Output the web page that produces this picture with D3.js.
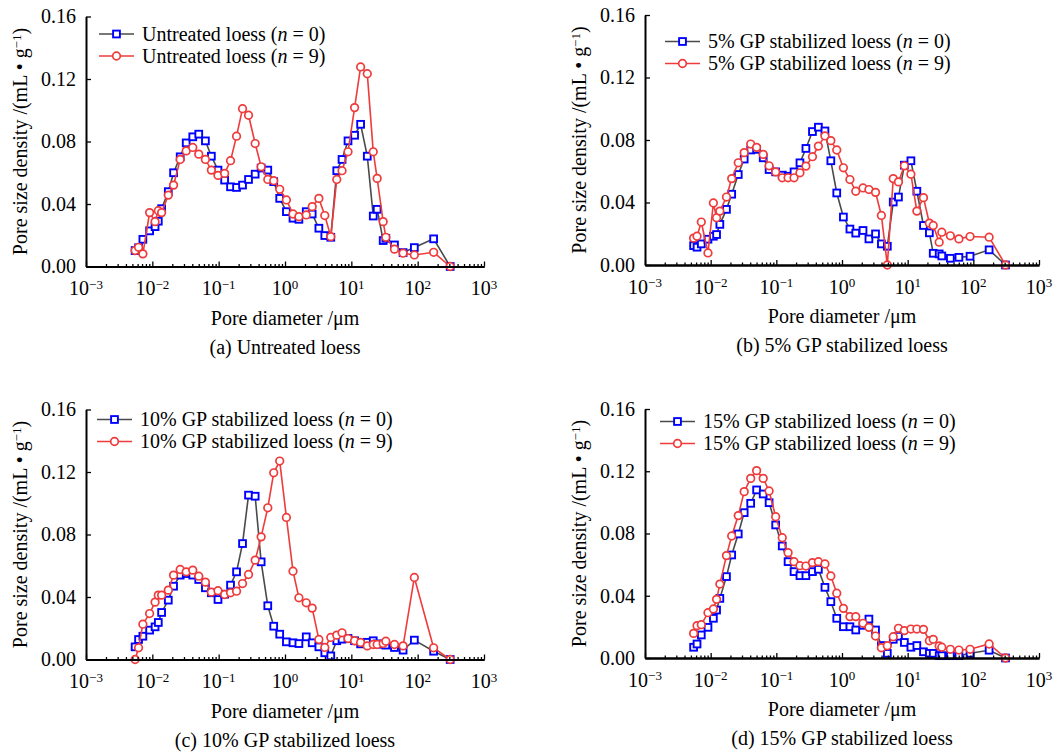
<!DOCTYPE html>
<html>
<head>
<meta charset="utf-8">
<script src="https://cdn.jsdelivr.net/npm/d3@7"></script>
<style>
  body { margin: 0; background: #fff; }
  text { font-family: "Liberation Serif", "Times New Roman", serif; fill: #000; }
</style>
</head>
<body>
<script>
//pore diameters (um) shared by every curve
var diameters = [0.0055, 0.0062, 0.0072, 0.0091, 0.011, 0.0123, 0.0138, 0.0174, 0.0209, 0.0263,
  0.0324, 0.0407, 0.0501, 0.0631, 0.0776, 0.0977, 0.123, 0.151, 0.186, 0.229,
  0.282, 0.355, 0.437, 0.550, 0.676, 0.832, 1.05, 1.32, 1.62, 2.09,
  2.57, 3.24, 3.98, 4.90, 6.03, 7.24, 8.91, 11.2, 13.8, 17.4,
  21.4, 24.5, 30.2, 33.1, 44.7, 60.3, 89.1, 174, 309];

//pore size density (mL/g), n = number of cycles
var untreated0 = [0.0102, 0.012, 0.0174, 0.0228, 0.0255, 0.029, 0.037, 0.0479, 0.060, 0.0702,
  0.0791, 0.083, 0.0847, 0.0804, 0.0706, 0.0617, 0.0553, 0.051, 0.0506, 0.0521,
  0.0557, 0.0591, 0.063, 0.0617, 0.0543, 0.0436, 0.0351, 0.0309, 0.0302, 0.0351,
  0.0336, 0.0245, 0.0198, 0.0187, 0.0613, 0.0685, 0.0804, 0.084, 0.091, 0.0706,
  0.0323, 0.0366, 0.0166, 0.018, 0.0138, 0.0089, 0.0121, 0.0177, 0];
var untreated9 = [0.0102, 0.0123, 0.0081, 0.0345, 0.0287, 0.0357, 0.0345, 0.0457, 0.0521, 0.0685,
  0.074, 0.0762, 0.0719, 0.0685, 0.0617, 0.0583, 0.0596, 0.0677, 0.0834, 0.101,
  0.0968, 0.0787, 0.0638, 0.0557, 0.0549, 0.0494, 0.0426, 0.0336, 0.0319, 0.033,
  0.0383, 0.0436, 0.0326, 0.0191, 0.0557, 0.0613, 0.0734, 0.1017, 0.1277, 0.1234,
  0.0734, 0.0564, 0.0287, 0.0187, 0.0111, 0.0085, 0.0074, 0.0091, 0];
var gp5n0 = [0.0124, 0.0114, 0.0135, 0.0165, 0.0184, 0.0195, 0.026, 0.0356, 0.0453, 0.0579,
  0.0678, 0.0736, 0.074, 0.0686, 0.0611, 0.0596, 0.0575, 0.0568, 0.0596, 0.0654,
  0.0746, 0.0854, 0.0882, 0.0858, 0.0667, 0.0461, 0.0307, 0.023, 0.0204, 0.0221,
  0.0167, 0.0199, 0.0135, 0.012, 0.0403, 0.0435, 0.0639, 0.0667, 0.0472, 0.0253,
  0.0206, 0.0075, 0.0071, 0.0058, 0.0043, 0.0049, 0.0056, 0.0097, 0];
var gp5n9 = [0.0172, 0.0184, 0.0275, 0.0077, 0.0397, 0.0302, 0.0345, 0.0435, 0.0553, 0.0654,
  0.0719, 0.0774, 0.0753, 0.0708, 0.0635, 0.0596, 0.0558, 0.0558, 0.0558, 0.059,
  0.0633, 0.0693, 0.0761, 0.0826, 0.0796, 0.0736, 0.0622, 0.0547, 0.0472, 0.0493,
  0.0483, 0.0465, 0.0317, 0, 0.0553, 0.0532, 0.0635, 0.0581, 0.0345, 0.0431,
  0.0268, 0.0253, 0.0146, 0.021, 0.0187, 0.0167, 0.0182, 0.0178, 0];
var gp10n0 = [0.0081, 0.0128, 0.0149, 0.0188, 0.0209, 0.0237, 0.0301, 0.038, 0.0469, 0.054,
  0.055, 0.054, 0.0512, 0.0459, 0.0427, 0.0384, 0.0418, 0.0476, 0.0561, 0.0742,
  0.1052, 0.1045, 0.0625, 0.0344, 0.0213, 0.0162, 0.0113, 0.0107, 0.0102, 0.0145,
  0.0107, 0.0081, 0.0043, 0.0023, 0.012, 0.013, 0.0135, 0.012, 0.010, 0.011,
  0.012, 0.010, 0.0098, 0.0092, 0.0077, 0.006, 0.0124, 0.0053, 0];
var gp10n9 = [0, 0.0075, 0.0226, 0.0294, 0.0367, 0.0412, 0.0412, 0.0444, 0.054, 0.0576,
  0.0561, 0.0572, 0.0533, 0.0495, 0.0431, 0.044, 0.0416, 0.0427, 0.0437, 0.0486,
  0.0544, 0.0636, 0.0785, 0.0971, 0.1195, 0.127, 0.0909, 0.0565, 0.0395, 0.0363,
  0.0329, 0.0128, 0.0077, 0.0141, 0.0156, 0.0171, 0.0134, 0.012, 0.0109, 0.0087,
  0.0096, 0.0096, 0.0102, 0.0117, 0.0096, 0.0087, 0.0525, 0.0075, 0];
var gp15n0 = [0.0069, 0.009, 0.0148, 0.0197, 0.0255, 0.0308, 0.0383, 0.0523, 0.0662, 0.0797,
  0.0934, 0.0994, 0.108, 0.1054, 0.0998, 0.0855, 0.072, 0.0619, 0.0555, 0.0529,
  0.0529, 0.0555, 0.057, 0.0454, 0.0362, 0.0255, 0.0201, 0.0201, 0.018, 0.021,
  0.025, 0.018, 0.008, 0.003, 0.012, 0.014, 0.010, 0.0069, 0.008, 0.004,
  0.003, 0.003, 0.0015, 0.0015, 0.0015, 0.0015, 0.003, 0.005, 0];
var gp15n9 = [0.0158, 0.0208, 0.0214, 0.0291, 0.0315, 0.0377, 0.0475, 0.0658, 0.0784, 0.0915,
  0.1069, 0.1154, 0.1204, 0.1154, 0.1073, 0.0908, 0.0773, 0.0677, 0.0619, 0.0593,
  0.0591, 0.0613, 0.0619, 0.0604, 0.0527, 0.0416, 0.0319, 0.0266, 0.0266, 0.0223,
  0.0197, 0.0141, 0.0066, 0.0079, 0.0137, 0.0191, 0.0176, 0.0186, 0.0186, 0.0184,
  0.0111, 0.012, 0.0077, 0.0069, 0.0056, 0.0051, 0.0056, 0.009, 0];

//axis ticks
var xExponents = [-3, -2, -1, 0, 1, 2, 3];
var yTicks = [0, 0.04, 0.08, 0.12, 0.16];

//sample names and captions
var sampleNames = ["Untreated loess", "5% GP stabilized loess", "10% GP stabilized loess", "15% GP stabilized loess"];
var captions = ["(a) Untreated loess", "(b) 5% GP stabilized loess", "(c) 10% GP stabilized loess", "(d) 15% GP stabilized loess"];

//panel layout (axis origin, size, legend spot)
var panels = [
  { left: 86,  top: 16.5, width: 398, height: 250, legX: 99,  legY: 34,  n0: untreated0, n9: untreated9 },
  { left: 645, top: 15,   width: 394, height: 250, legX: 665, legY: 41.5, n0: gp5n0,  n9: gp5n9 },
  { left: 86,  top: 409.5, width: 398, height: 250, legX: 97,  legY: 419.5, n0: gp10n0, n9: gp10n9 },
  { left: 645, top: 409,  width: 394, height: 249, legX: 660, legY: 421.5, n0: gp15n0, n9: gp15n9 }
];

var blue = "#0000ff", red = "#ef3b3b", grey = "#4a4a4a";

var svg = d3.select("body").append("svg")
    .attr("width", 1060)
    .attr("height", 753);

//minor tick values 2..9 x 10^k
var minorTicks = [];
for (var e = -3; e < 3; e++) {
  for (var m = 2; m < 10; m++) minorTicks.push(m * Math.pow(10, e));
}

panels.forEach(function(p, i) {
  var g = svg.append("g").attr("transform", "translate(" + p.left + "," + p.top + ")");

  var x = d3.scaleLog().domain([1e-3, 1e3]).range([0, p.width]);
  var y = d3.scaleLinear().domain([0, 0.16]).range([p.height, 0]);

  //series lines and markers, n = 0 first so n = 9 sits on top
  var line = d3.line()
      .x(function(d) { return x(d.d); })
      .y(function(d) { return y(d.v); });

  function rows(vals) {
    return diameters.map(function(d, k) { return { d: d, v: vals[k] }; });
  }

  var s0 = rows(p.n0), s9 = rows(p.n9);

  g.append("path").attr("d", line(s0))
      .attr("fill", "none").attr("stroke", grey).attr("stroke-width", 1.6);
  g.selectAll(".sq").data(s0).enter().append("rect")
      .attr("class", "sq")
      .attr("x", function(d) { return x(d.d) - 3.4; })
      .attr("y", function(d) { return y(d.v) - 3.4; })
      .attr("width", 6.8).attr("height", 6.8)
      .attr("fill", "#fff").attr("stroke", blue).attr("stroke-width", 1.9);

  g.append("path").attr("d", line(s9))
      .attr("fill", "none").attr("stroke", red).attr("stroke-width", 1.6);
  g.selectAll(".ci").data(s9).enter().append("circle")
      .attr("class", "ci")
      .attr("cx", function(d) { return x(d.d); })
      .attr("cy", function(d) { return y(d.v); })
      .attr("r", 3.8)
      .attr("fill", "#fff").attr("stroke", red).attr("stroke-width", 1.7);

  //x axis: major and minor ticks pointing inward
  var xMajor = d3.axisBottom(x)
      .tickValues(xExponents.map(function(k) { return Math.pow(10, k); }))
      .tickSizeInner(-5).tickSizeOuter(0).tickFormat("");
  var xMinor = d3.axisBottom(x)
      .tickValues(minorTicks).tickSizeInner(-2.5).tickSizeOuter(0).tickFormat("");

  var gx = g.append("g").attr("transform", "translate(0," + p.height + ")");
  gx.call(xMinor);
  gx.append("g").call(xMajor);
  gx.selectAll("path.domain").attr("stroke-width", 2);
  gx.selectAll(".tick line").attr("stroke-width", 1.3);

  //x tick labels as 10^k
  xExponents.forEach(function(k) {
    var t = g.append("text")
        .attr("x", x(Math.pow(10, k)))
        .attr("y", p.height + 28.5)
        .attr("text-anchor", "middle")
        .style("font-size", "20px");
    t.append("tspan").text("10");
    t.append("tspan").attr("dy", "-0.5em").style("font-size", "13px")
        .text(k < 0 ? "\u2212" + (-k) : String(k));
  });

  //y axis
  var gy = g.append("g").call(d3.axisLeft(y)
      .tickValues(yTicks).tickSizeInner(-5).tickSizeOuter(0)
      .tickPadding(10).tickFormat(d3.format(".2f")));
  gy.selectAll("path.domain").attr("stroke-width", 2);
  gy.selectAll(".tick line").attr("stroke-width", 1.3);
  gy.selectAll(".tick text")
      .style("font-size", "20px")
      .style("font-family", "'Liberation Serif', 'Times New Roman', serif");

  //axis titles and caption
  g.append("text")
      .attr("x", p.width / 2).attr("y", p.height + 58)
      .attr("text-anchor", "middle").style("font-size", "20px")
      .text("Pore diameter /\u03bcm");

  g.append("text")
      .attr("x", p.width / 2).attr("y", p.height + 87)
      .attr("text-anchor", "middle").style("font-size", "20px")
      .text(captions[i]);

  var yt = g.append("text")
      .attr("text-anchor", "middle")
      .attr("transform", "translate(-59," + (p.height / 2) + ")rotate(-90)")
      .style("font-size", "20px");
  yt.append("tspan").text("Pore size density /(mL \u2022 g");
  yt.append("tspan").attr("dy", "-0.5em").style("font-size", "13px").text("\u22121");
  yt.append("tspan").attr("dy", "0.33em").text(")");

  //legend
  var leg = [
    { n: "0", stroke: grey, mark: "sq" },
    { n: "9", stroke: red, mark: "ci" }
  ];
  leg.forEach(function(l, j) {
    var ly = p.legY + j * 22;
    svg.append("line")
        .attr("x1", p.legX).attr("x2", p.legX + 35)
        .attr("y1", ly).attr("y2", ly)
        .attr("stroke", l.stroke).attr("stroke-width", 1.6);
    if (l.mark == "sq") {
      svg.append("rect")
          .attr("x", p.legX + 17.5 - 3.4).attr("y", ly - 3.4)
          .attr("width", 6.8).attr("height", 6.8)
          .attr("fill", "#fff").attr("stroke", blue).attr("stroke-width", 1.9);
    } else {
      svg.append("circle")
          .attr("cx", p.legX + 17.5).attr("cy", ly).attr("r", 3.8)
          .attr("fill", "#fff").attr("stroke", red).attr("stroke-width", 1.7);
    }
    var t = svg.append("text")
        .attr("x", p.legX + 43).attr("y", ly)
        .attr("dy", "0.33em").style("font-size", "20px");
    t.append("tspan").text(sampleNames[i] + " (");
    t.append("tspan").style("font-style", "italic").text("n");
    t.append("tspan").text(" = " + l.n + ")");
  });
});
</script>
</body>
</html>
